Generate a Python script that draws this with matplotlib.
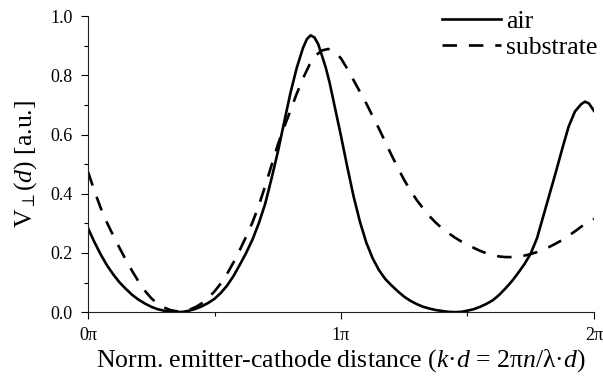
import numpy as np
import matplotlib
matplotlib.use('Agg')
import matplotlib.pyplot as plt
from matplotlib.ticker import MultipleLocator, FixedLocator, FormatStrFormatter

plt.rcParams['font.family'] = ['Liberation Serif', 'DejaVu Serif']
plt.rcParams['mathtext.fontset'] = 'custom'
plt.rcParams['mathtext.rm'] = 'Liberation Serif'
plt.rcParams['mathtext.it'] = 'Liberation Serif:italic'

# solid curve (air), x in units of pi
x_air = [0.00, 0.025, 0.05, 0.075, 0.10, 0.125, 0.15, 0.175, 0.20, 0.225,
         0.25, 0.275, 0.30, 0.325, 0.35, 0.375, 0.40, 0.425, 0.45, 0.475,
         0.50, 0.525, 0.55, 0.575, 0.60, 0.625, 0.65, 0.675, 0.70, 0.725,
         0.75, 0.775, 0.80, 0.825, 0.85, 0.865, 0.88, 0.895, 0.91, 0.925,
         0.94, 0.955, 0.97, 0.985, 1.00, 1.025, 1.05, 1.075, 1.10, 1.125,
         1.15, 1.175, 1.20, 1.225, 1.25, 1.275, 1.30, 1.325, 1.35, 1.375,
         1.40, 1.425, 1.45, 1.475, 1.50, 1.525, 1.55, 1.575, 1.60, 1.625,
         1.65, 1.675, 1.70, 1.725, 1.75, 1.775, 1.80, 1.825, 1.85, 1.875,
         1.90, 1.925, 1.95, 1.965, 1.98, 2.00]
air = [0.283, 0.237, 0.195, 0.158, 0.127, 0.100, 0.078, 0.058, 0.042, 0.029,
       0.018, 0.010, 0.005, 0.002, 0.000, 0.001, 0.005, 0.011, 0.020, 0.031,
       0.045, 0.065, 0.090, 0.122, 0.160, 0.200, 0.245, 0.300, 0.365, 0.450,
       0.540, 0.640, 0.740, 0.825, 0.893, 0.922, 0.935, 0.928, 0.905, 0.866,
       0.825, 0.775, 0.715, 0.655, 0.595, 0.490, 0.390, 0.305, 0.235, 0.182,
       0.142, 0.112, 0.090, 0.070, 0.052, 0.038, 0.027, 0.018, 0.012, 0.007,
       0.004, 0.001, 0.000, 0.001, 0.005, 0.010, 0.018, 0.028, 0.040, 0.058,
       0.080, 0.104, 0.132, 0.162, 0.198, 0.250, 0.325, 0.400, 0.475, 0.553,
       0.627, 0.678, 0.703, 0.711, 0.705, 0.680]

# dashed curve (substrate)
x_sub = [0.00, 0.025, 0.05, 0.075, 0.10, 0.125, 0.15, 0.175, 0.20, 0.225,
         0.25, 0.275, 0.30, 0.325, 0.35, 0.375, 0.40, 0.425, 0.45, 0.475,
         0.50, 0.525, 0.55, 0.575, 0.60, 0.625, 0.65, 0.675, 0.70, 0.725,
         0.75, 0.775, 0.80, 0.825, 0.85, 0.875, 0.90, 0.925, 0.95, 0.975,
         1.00, 1.025, 1.05, 1.075, 1.10, 1.125, 1.15, 1.175, 1.20, 1.225,
         1.25, 1.275, 1.30, 1.325, 1.35, 1.375, 1.40, 1.425, 1.45, 1.475,
         1.50, 1.525, 1.55, 1.575, 1.60, 1.625, 1.65, 1.675, 1.70, 1.725,
         1.75, 1.775, 1.80, 1.825, 1.85, 1.875, 1.90, 1.925, 1.95, 1.975,
         2.00]
substrate = [0.474, 0.410, 0.352, 0.302, 0.258, 0.216, 0.176, 0.138, 0.103, 0.072,
             0.047, 0.028, 0.016, 0.007, 0.003, 0.003, 0.008, 0.017, 0.030, 0.048,
             0.070, 0.097, 0.130, 0.168, 0.210, 0.255, 0.303, 0.360, 0.425, 0.495,
             0.565, 0.625, 0.680, 0.738, 0.790, 0.835, 0.867, 0.884, 0.889, 0.880,
             0.857, 0.822, 0.783, 0.744, 0.705, 0.662, 0.620, 0.575, 0.530, 0.487,
             0.446, 0.410, 0.378, 0.350, 0.324, 0.302, 0.283, 0.267, 0.252, 0.239,
             0.228, 0.217, 0.207, 0.199, 0.193, 0.188, 0.186, 0.186, 0.188, 0.191,
             0.196, 0.203, 0.212, 0.221, 0.232, 0.244, 0.258, 0.273, 0.289, 0.302,
             0.315]

x_ticks = [0, 1, 2]
x_tick_labels = ['0π', '1π', '2π']

fig = plt.figure(figsize=(6.03, 3.83), dpi=100)
ax = fig.add_axes([0.146, 0.185, 0.839, 0.773])

ax.plot(x_air, air, color='black', lw=1.9, label='air')
ax.plot(x_sub, substrate, color='black', lw=1.9, linestyle=(0, (5.5, 4.5)), label='substrate')

ax.set_xlim(0, 2)
ax.set_ylim(0, 1.0)
ax.xaxis.set_major_locator(FixedLocator(x_ticks))
ax.set_xticklabels(x_tick_labels)
ax.xaxis.set_minor_locator(MultipleLocator(0.5))
ax.yaxis.set_major_locator(MultipleLocator(0.2))
ax.yaxis.set_minor_locator(MultipleLocator(0.1))
ax.yaxis.set_major_formatter(FormatStrFormatter('%.1f'))

for s in ['top', 'right']:
    ax.spines[s].set_visible(False)
for s in ['left', 'bottom']:
    ax.spines[s].set_linewidth(0.8)
    ax.spines[s].set_color('#222222')

ax.tick_params(which='major', direction='out', length=5, width=0.8, labelsize=13, pad=6)
ax.tick_params(which='minor', direction='out', length=3, width=0.8)

ax.set_xlabel(r'Norm. emitter-cathode distance ($k$·$d$ = 2π$n$/λ·$d$)', fontsize=18.5, labelpad=2)
ax.set_ylabel(r'V$_{\perp}$($d$) [a.u.]', fontsize=18.5, labelpad=8)

ax.legend(loc='upper right', bbox_to_anchor=(1.0, 0.987), bbox_transform=fig.transFigure,
          frameon=False, fontsize=18.5, handlelength=2.3, handletextpad=0.2,
          labelspacing=0.1, borderaxespad=0.1, borderpad=0.1)

fig.savefig('out.png', dpi=100)
